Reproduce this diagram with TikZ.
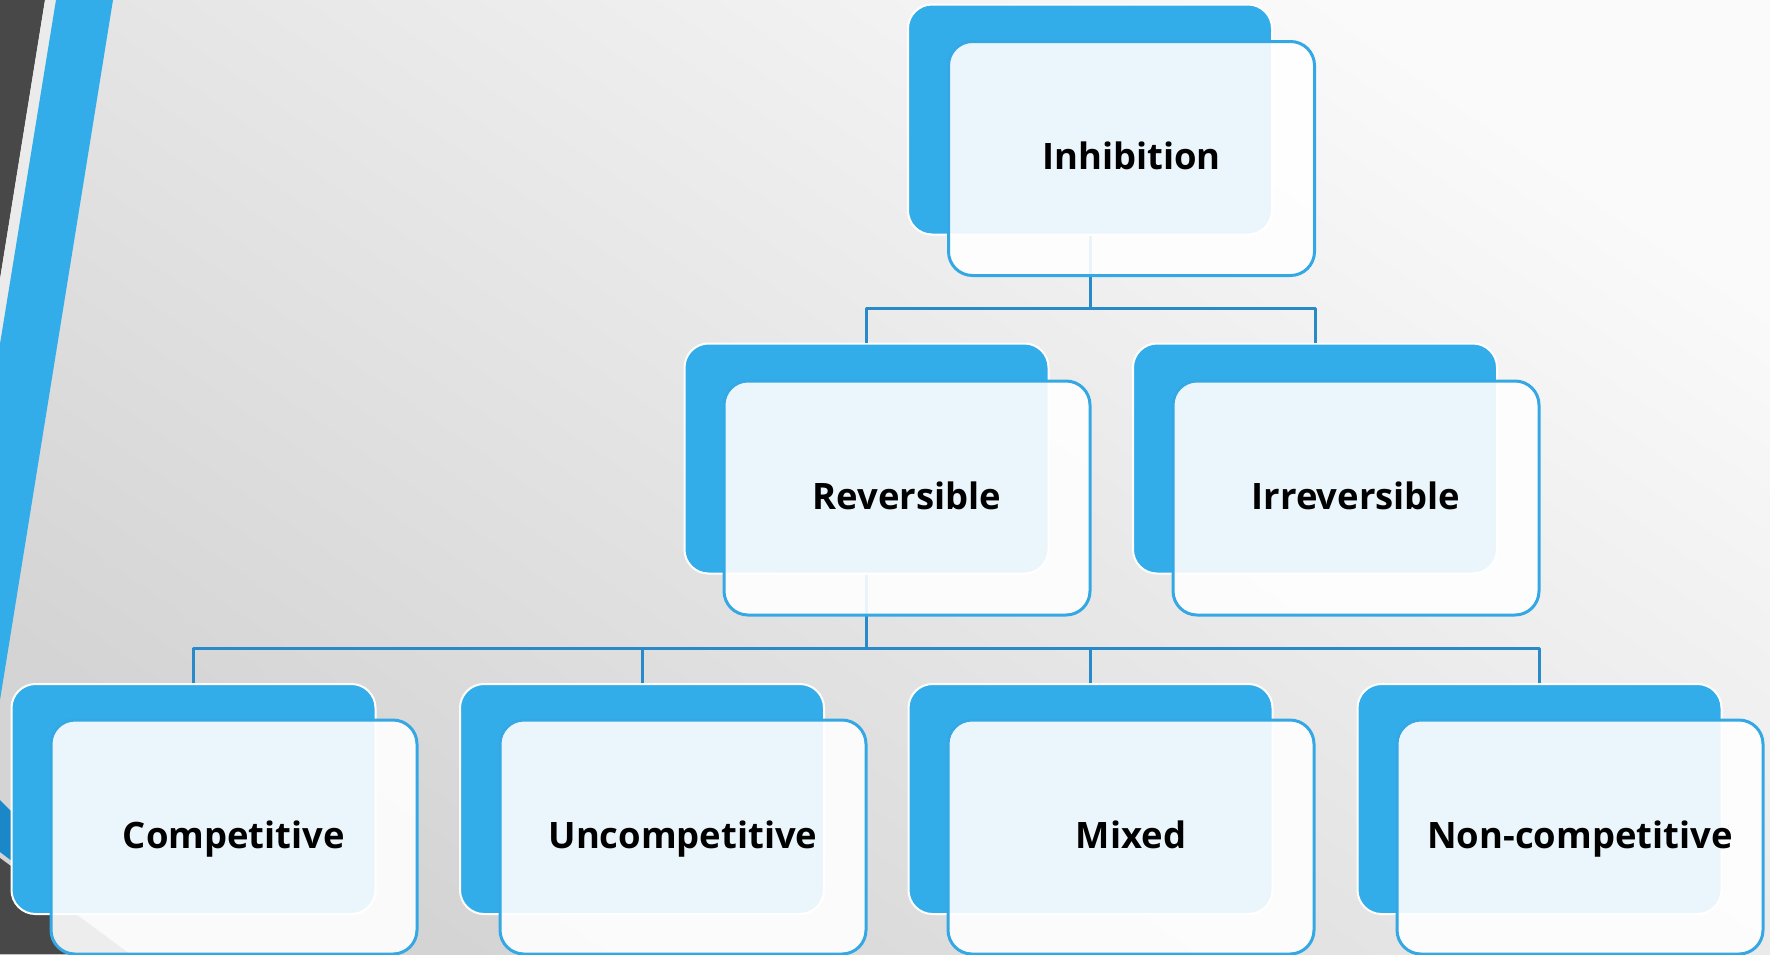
\documentclass[tikz,border=0pt]{standalone}
\usepackage{fontspec}
\setmainfont{Open Sans}
\usetikzlibrary{positioning}
\definecolor{boxblue}{RGB}{51,173,234}
\definecolor{edgeblue}{RGB}{52,168,228}
\definecolor{linkblue}{RGB}{40,138,200}
\definecolor{darkband}{RGB}{72,72,72}
\definecolor{stripblue}{RGB}{26,136,200}
\begin{document}
\begin{tikzpicture}[x=0.5pt,y=-0.5pt,line join=round,
  backbox/.style={draw=white,line width=1pt,fill=boxblue,rounded corners=12pt,minimum width=182pt,minimum height=115pt,inner sep=0pt},
  frontbox/.style={draw=edgeblue,line width=1.5pt,fill=white,fill opacity=0.9,text opacity=1,rounded corners=12pt,minimum width=183pt,minimum height=117pt,inner sep=0pt,text height=13pt,text depth=2pt,font=\fontsize{18.2}{22}\selectfont\bfseries},
  link/.style={draw=linkblue,line width=1.5pt}]
\useasboundingbox (0,0) rectangle (1770,954);
%% background
\shade[top color=black!2,bottom color=black!17,shading angle=-35] (0,0) rectangle (1770,954);
\fill[darkband] (0,0) -- (45,0) -- (0,279) -- cycle;
\fill[black!8] (45,0) -- (56,0) -- (0,344) -- (0,279) -- cycle;
\fill[boxblue] (56,0) -- (113,0) -- (0,700) -- (0,344) -- cycle;
\fill[stripblue] (0,800) -- (70,870) -- (70,905) -- (0,852) -- cycle;
\fill[darkband] (0,858) -- (130,954) -- (0,954) -- cycle;
%% back boxes
\node (inhib_b) at (1090,119.5) [backbox] {};
\node (rev_b) at (866.5,458.5) [backbox] {};
\node (irr_b) at (1315,458.5) [backbox] {};
\node (comp_b) at (193.5,799) [backbox] {};
\node (uncomp_b) at (642,799) [backbox] {};
\node (mixed_b) at (1090.5,799) [backbox] {};
\node (noncomp_b) at (1539.5,799) [backbox] {};
%% links
\coordinate (split_1) at (1090,308);
\coordinate (split_2) at (866.5,648);
\draw [link] (inhib_b.south) -- (split_1) -| (rev_b.north);
\draw [link] (split_1) -| (irr_b.north);
\draw [link] (rev_b.south) -- (split_2) -| (comp_b.north);
\draw [link] (split_2) -| (uncomp_b.north);
\draw [link] (split_2) -| (mixed_b.north);
\draw [link] (split_2) -| (noncomp_b.north);
%% front boxes
\node (inhib) at (1131.5,158.5) [frontbox] {Inhibition};
\node (rev) at (907,498) [frontbox] {Reversible};
\node (irr) at (1356,498) [frontbox] {Irreversible};
\node (comp) at (234,837) [frontbox] {Competitive};
\node (uncomp) at (683,837) [frontbox] {Uncompetitive};
\node (mixed) at (1131,837) [frontbox] {Mixed};
\node (noncomp) at (1580,837) [frontbox] {Non-competitive};
%
\end{tikzpicture}
\end{document}
